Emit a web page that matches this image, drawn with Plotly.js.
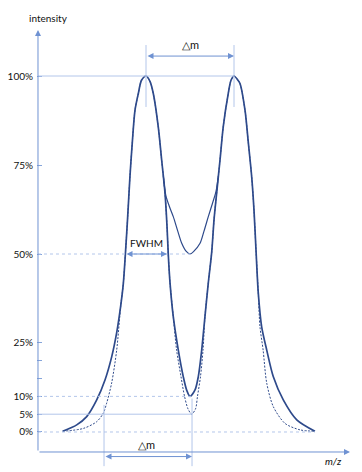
<!DOCTYPE html>
<html>
<head>
<meta charset="utf-8">
<script src="https://cdn.plot.ly/plotly-3.0.1.min.js"></script>
<style>html,body{margin:0;padding:0;background:#fff}#chart{width:362px;height:472px}</style>
</head>
<body>
<div id="chart"></div>
<script>
// m/z (arbitrary units, peaks at 50 and 60, so delta m = 10) and intensity in %
const solidX = [40.53, 42.13, 43.26, 44.40, 45.34, 46.10, 46.67, 47.13, 47.42, 47.65, 47.92, 48.18, 48.44, 48.75, 49.13, 49.49, 50.00,
  50.45, 50.83, 51.39, 51.78, 52.16, 52.39, 52.53, 52.73, 53.10, 53.67, 54.24, 54.63, 55.00,
  55.57, 55.94, 56.33, 56.70, 57.08, 57.47, 57.73, 58.03, 58.41, 58.78, 59.35, 59.66, 60.00,
  60.45, 60.68, 61.25, 61.63, 62.01, 62.27, 62.50, 62.76, 63.14, 63.72, 64.47, 65.60, 67.13, 69.20];
const solidY = [0.2, 2.0, 4.3, 9.0, 14.6, 21.1, 27.9, 35.5, 41.6, 49.7, 60.5, 71.9, 81.2, 90.4, 95.1, 98.8, 100,
  98.5, 95.1, 85.8, 76.4, 67.1, 57.7, 50.0, 41.9, 32.4, 23.0, 15.5, 11.7, 10.0,
  11.8, 15.5, 23.0, 32.4, 41.9, 50.6, 59.6, 67.1, 76.4, 85.8, 95.1, 98.8, 100,
  98.8, 97.9, 90.4, 81.2, 71.7, 62.4, 51.1, 39.0, 29.6, 23.0, 15.5, 9.0, 3.4, 0.2];

const dashedX = [40.53, 42.88, 44.40, 45.15, 45.53, 46.10, 46.67, 47.13, 47.42, 47.65, 47.92, 48.18, 48.44, 48.75, 49.13, 49.49, 50.00,
  50.45, 50.83, 51.39, 51.78, 52.16, 52.39, 52.53, 52.73, 53.10, 53.48, 53.98, 54.38, 54.77, 55.19,
  55.63, 55.85, 56.19, 56.48, 56.70, 57.08, 57.47, 57.73, 58.03, 58.41, 58.78, 59.35, 59.66, 60.00,
  60.45, 60.68, 61.25, 61.63, 62.01, 62.27, 62.50, 62.76, 62.95, 63.31, 63.72, 64.47, 65.80, 67.50, 69.20];
const dashedY = [0.2, 1.0, 2.9, 5.3, 8.1, 13.8, 23.0, 35.5, 41.6, 49.7, 60.5, 71.9, 81.2, 90.4, 95.1, 98.8, 100,
  98.5, 95.1, 85.8, 76.4, 67.1, 57.7, 50.0, 41.9, 32.4, 23.0, 15.5, 10.0, 6.5, 5.0,
  6.5, 10.0, 15.5, 23.0, 32.4, 41.9, 50.6, 59.6, 67.1, 76.4, 85.8, 95.1, 98.8, 100,
  98.8, 97.9, 90.4, 81.2, 71.7, 62.4, 51.1, 39.0, 29.6, 23.0, 13.7, 7.1, 2.4, 0.6, 0.2];

const halfX = [51.97, 52.25, 52.65, 53.10, 53.60, 54.06, 54.55, 55.00, 55.45, 56.14, 56.60, 57.08, 57.55, 57.95, 58.22];
const halfY = [71.9, 66.5, 63.4, 60.5, 56.5, 53.0, 50.8, 50.0, 50.8, 53.0, 56.5, 60.5, 64.2, 67.5, 71.9];

const yTickVals = [0, 5, 10, 15, 20, 25, 50, 75, 100];
const yTickText = ['0%', '5%', '10%', '', '', '25%', '50%', '75%', '100%'];

const peaks = [50, 60];
const baseMarks = [45.23, 55.23];

const lineCol = '#2e4a8b';
const axisCol = '#86a5da';
const refCol = '#b3c6ea';
const txtCol = '#111';
const F = 'Lato, "Open Sans", sans-serif';

const traces = [
  {x: dashedX, y: dashedY, mode: 'lines', line: {color: lineCol, width: 1, dash: '2px,1.5px', shape: 'spline', smoothing: 0.8}, hoverinfo: 'skip'},
  {x: halfX, y: halfY, mode: 'lines', line: {color: lineCol, width: 1.2, shape: 'spline', smoothing: 0.8}, hoverinfo: 'skip'},
  {x: solidX, y: solidY, mode: 'lines', line: {color: lineCol, width: 1.7, shape: 'spline', smoothing: 0.8}, hoverinfo: 'skip'}
];

const xL = 37.727; // y-axis position
const shapes = [
  {type: 'line', xref: 'x', yref: 'y', x0: xL, x1: peaks[1], y0: 100, y1: 100, line: {color: refCol, width: 1}},
  {type: 'line', xref: 'x', yref: 'y', x0: xL, x1: 55.0, y0: 50, y1: 50, line: {color: refCol, width: 1, dash: 'dot'}},
  {type: 'line', xref: 'x', yref: 'y', x0: xL, x1: 55.2, y0: 10, y1: 10, line: {color: refCol, width: 1, dash: 'dot'}},
  {type: 'line', xref: 'x', yref: 'y', x0: xL, x1: 55.2, y0: 5, y1: 5, line: {color: refCol, width: 1}},
  {type: 'line', xref: 'x', yref: 'y', x0: xL, x1: 69.2, y0: 0, y1: 0, line: {color: refCol, width: 1, dash: 'dot'}},
  {type: 'line', xref: 'x', yref: 'y', x0: peaks[0], x1: peaks[0], y0: 91.3, y1: 108.7, line: {color: refCol, width: 1}},
  {type: 'line', xref: 'x', yref: 'y', x0: peaks[1], x1: peaks[1], y0: 91.3, y1: 108.7, line: {color: refCol, width: 1}},
  {type: 'line', xref: 'x', yref: 'y', x0: baseMarks[0], x1: baseMarks[0], y0: -9.6, y1: 7.6, line: {color: refCol, width: 1}},
  {type: 'line', xref: 'x', yref: 'y', x0: baseMarks[1], x1: baseMarks[1], y0: -9.6, y1: 9.4, line: {color: refCol, width: 1}}
];

function arrow(x0, y0, x1, y1, both) {
  const a = {x: x1, y: y1, ax: x0, ay: y0, xref: 'x', yref: 'y', axref: 'x', ayref: 'y',
    text: '', showarrow: true, arrowhead: 2, arrowsize: 1.2, arrowwidth: 1, arrowcolor: '#6f92d2', standoff: 0, startstandoff: 0};
  if (both) { a.arrowside = 'end+start'; a.startarrowhead = 2; a.startarrowsize = 1.2; }
  return a;
}
function label(x, y, t, size) {
  return {x: x, y: y, xref: 'x', yref: 'y', text: t, showarrow: false, font: {family: F, size: size || 10, color: txtCol}};
}

const annotations = [
  arrow(xL, -5.62, xL, 112.9, false),
  arrow(xL, -5.62, 73.18, -5.62, false),
  arrow(peaks[0], 105.6, peaks[1], 105.6, true),
  arrow(47.61, 50, 52.39, 50, true),
  arrow(baseMarks[0], -6.9, baseMarks[1], -6.9, true),
  label(38.9, 116.4, 'intensity'),
  label(71.3, -8.2, '<i>m/z</i>'),
  label(55.1, 108.9, '△m', 11),
  label(50.0, 53.2, 'FWHM'),
  label(50.0, -3.4, '△m', 11)
];

const layout = {
  width: 362, height: 472,
  margin: {l: 37, r: 0, t: 0, b: 0},
  paper_bgcolor: '#fff', plot_bgcolor: '#fff',
  showlegend: false,
  xaxis: {visible: false, range: [37.614, 74.545], fixedrange: true},
  yaxis: {range: [-11.24, 121.35], tickvals: yTickVals, ticktext: yTickText, ticks: 'inside', ticklen: 5,
    tickcolor: axisCol, showgrid: false, zeroline: false, showline: false, ticklabelstandoff: 3,
    tickfont: {family: F, size: 10, color: txtCol}, fixedrange: true},
  shapes: shapes,
  annotations: annotations
};

Plotly.newPlot('chart', traces, layout, {staticPlot: true, displayModeBar: false});
</script>
</body>
</html>
